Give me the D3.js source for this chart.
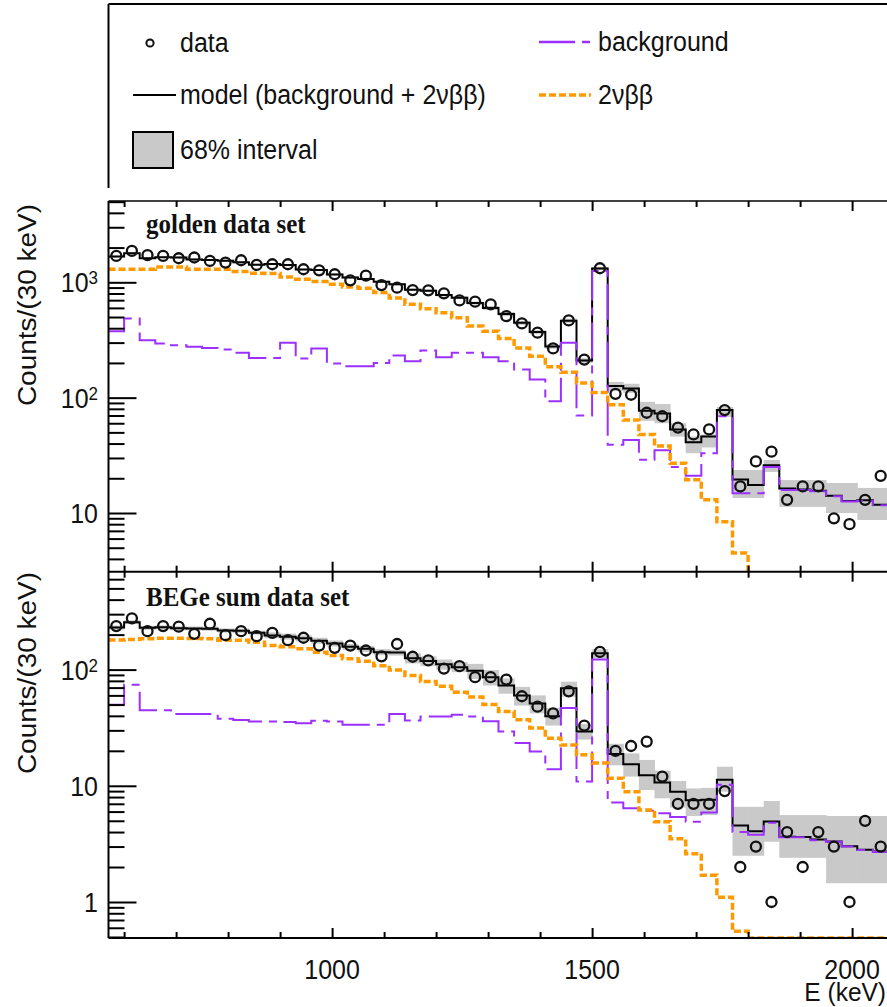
<!DOCTYPE html>
<html>
<head>
<meta charset="utf-8">
<script src="https://cdn.jsdelivr.net/npm/d3@7"></script>
<style>
  body { margin: 0; background: #fff; }
  svg { display: block; }
  text { font-family: "Liberation Sans", Arial, Helvetica, sans-serif; fill: #111; }
</style>
</head>
<body>
<svg id="chart" width="887" height="1007"></svg>
<script>
// ---- binning: 30 keV bins, lower edges (keV) ----
const binStart = [570, 600, 630, 660, 690, 720, 750, 780, 810, 840,
                  870, 900, 930, 960, 990, 1020, 1050, 1080, 1110, 1140,
                  1170, 1200, 1230, 1260, 1290, 1320, 1350, 1380, 1410, 1440,
                  1470, 1500, 1530, 1560, 1590, 1620, 1650, 1680, 1710, 1740,
                  1770, 1800, 1830, 1860, 1890, 1920, 1950, 1980, 2010, 2040];
const binWidth = 30;

// ---- golden data set ----
const goldenData = [1694, 1871, 1717, 1694, 1617, 1640, 1531, 1483, 1553, 1414,
                    1434, 1434, 1297, 1271, 1174, 1041, 1144, 947, 899, 857,
                    852, 802, 697, 679, 644, 509, 440, 366, 267, 467,
                    214, 1324, 108, 106, 74, 69, 55, 48, 53, 78,
                    17, 28, 34, 13, 17, 17, 9, 8, 13, 21];
const goldenModel = [1670, 1790, 1620, 1650, 1640, 1580, 1560, 1540, 1490, 1420,
                     1440, 1410, 1290, 1280, 1170, 1100, 1070, 1010, 960, 860,
                     845, 775, 735, 660, 600, 530, 445, 370, 278, 465,
                     210, 1320, 126, 120, 77, 73, 53, 41, 46, 78,
                     19.5, 17.5, 26, 16.3, 16.0, 15.6, 14.1, 12.7, 12.9, 11.8];
const goldenBkg = [377, 486, 315, 295, 285, 276, 270, 261, 245, 221,
                   221, 299, 218, 267, 198, 187, 187, 200, 232, 207,
                   256, 224, 245, 245, 224, 207, 175, 144, 93, 299,
                   70, 1255, 39, 43, 29, 35, 25, 21, 33, 69,
                   14.8, 14.8, 25, 15.8, 15.8, 15.4, 14, 12.6, 12.8, 11.7];
const golden2nbb = [1297, 1297, 1297, 1359, 1359, 1297, 1297, 1297, 1239, 1200,
                    1190, 1112, 1062, 1014, 961, 910, 887, 814, 731, 644,
                    591, 545, 493, 417, 377, 326, 270, 229, 185, 166,
                    134, 111, 87, 64, 48, 38, 27, 19.4, 13, 8.4,
                    4.5, 2.1, 1.0, 0.5, 0.25, 0.12, 0.06, 0.03, 0.015, 0.008];
const goldenBandLo = [1635, 1755, 1590, 1620, 1610, 1550, 1530, 1510, 1460, 1390,
                      1410, 1380, 1265, 1255, 1145, 1075, 1045, 990, 940, 840,
                      825, 755, 715, 640, 577, 508, 427, 355, 266, 445,
                      200, 1280, 114, 110, 63, 60, 46, 33, 37, 68,
                      13.5, 13.5, 22.7, 11.3, 11.3, 11.3, 10, 10, 8.7, 8.7];
const goldenBandHi = [1705, 1825, 1650, 1685, 1675, 1610, 1590, 1570, 1520, 1450,
                      1470, 1440, 1315, 1305, 1195, 1125, 1095, 1030, 980, 880,
                      865, 795, 755, 680, 624, 552, 463, 385, 290, 485,
                      220, 1360, 137, 132, 92, 88, 60, 46, 48, 83,
                      23.6, 23.6, 28.8, 19.3, 19.3, 19.3, 18.2, 18.2, 16.5, 16.5];

// ---- BEGe sum data set ----
const begeData = [237, 276, 214, 237, 234, 203, 248, 198, 214, 194,
                  207, 179, 188, 161, 154, 161, 146, 130, 166, 129,
                  120, 102, 107, 86, 86, 82, 59, 48, 42, 65,
                  33, 142, 20, 22, 24, 12, 7, 7, 7, 9,
                  2, 3, 1, 4, 2, 4, 3, 1, 5, 3];
const begeModel = [230, 256, 229, 231, 227, 226, 225, 217, 216, 208,
                   197, 192, 186, 177, 168, 157, 151, 141, 140, 125,
                   118.5, 111, 105, 97.6, 86, 73, 60, 51, 39.6, 69,
                   29.4, 138, 18.8, 15.3, 12.3, 10.7, 8.9, 7.5, 7.6, 11.3,
                   4.56, 4.07, 4.94, 3.65, 3.62, 3.45, 3.32, 3.02, 2.82, 2.72];
const begeBkg = [49.9, 74, 44.6, 44.6, 41.4, 41.4, 41.4, 37.7, 36.9, 35.8,
                 35.8, 35.4, 34.6, 36.3, 35.8, 33.5, 33.5, 33.5, 41.4, 36.5,
                 39.5, 39.5, 40.9, 39.5, 35.9, 29.3, 23.3, 19.7, 13.9, 46.7,
                 10.9, 122, 7.2, 6.4, 6.1, 5.8, 5.4, 4.9, 5.9, 10.2,
                 4.0, 3.8, 4.8, 3.6, 3.6, 3.4, 3.3, 3.0, 2.8, 2.7];
const bege2nbb = [180, 182, 184, 186, 186, 185, 184, 179, 179, 172,
                  161, 157, 151, 141, 132, 124, 118, 108, 99, 88.8,
                  79, 71.8, 63.7, 58.1, 50, 43.6, 37, 31.4, 25.7, 22.5,
                  18.5, 15.7, 11.6, 8.9, 6.2, 4.9, 3.5, 2.6, 1.7, 1.1,
                  0.56, 0.27, 0.14, 0.07, 0.035, 0.018, 0.009, 0.004, 0.002, 0.001];
const begeBandLo = [221, 246, 220, 222, 218, 217, 216, 208, 207, 200,
                    186, 181, 175, 167, 158, 148, 142, 133, 132, 113,
                    107, 100, 95, 83, 73, 62, 49, 42, 33, 58.4,
                    25, 125, 15, 12, 9.2, 7.8, 6.5, 5.5, 5.6, 8.9,
                    2.5, 2.5, 3.3, 2.4, 2.4, 2.4, 1.45, 1.45, 1.45, 1.45];
const begeBandHi = [239, 266, 238, 240, 236, 235, 234, 226, 225, 216,
                    209, 204, 197, 188, 178, 166, 160, 150, 148, 138,
                    130, 122, 116, 112, 99, 84, 71, 60, 47, 78.7,
                    34, 150, 23, 19, 16.7, 13.5, 11, 9.5, 9.6, 14.6,
                    6.6, 6.6, 7.4, 5.6, 5.6, 5.6, 5.5, 5.5, 5.5, 5.5];

// ---- axis ticks and labels ----
const xMajorTicks = [1000, 1500, 2000];
const xMinorTicks = [600, 700, 800, 900, 1100, 1200, 1300, 1400, 1600, 1700, 1800, 1900];
const goldenYLabels = [{v: 1000, base: "10", sup: "3"}, {v: 100, base: "10", sup: "2"}, {v: 10, base: "10", sup: ""}];
const begeYLabels = [{v: 100, base: "10", sup: "2"}, {v: 10, base: "10", sup: ""}, {v: 1, base: "1", sup: ""}];

// ---- styling ----
const COL_BAND = "#c9c9c9";
const COL_BKG = "#9b30ff";
const COL_2NBB = "#ff9900";
const STRETCH = 1.12;   // vertical text stretch

const W = 887;
const svg = d3.select("#chart");
const xLeft = 108.5;
const x = d3.scaleLinear().domain([570, 2100]).range([xLeft, xLeft + 1530 * 0.52]);

// log scale anchored on two decade positions, then extended to the pad edges
function logScale(v1, y1, v2, y2, yTop, yBot) {
  const s = d3.scaleLog().domain([v1, v2]).range([y1, y2]);
  return d3.scaleLog().domain([s.invert(yBot), s.invert(yTop)]).range([yBot, yTop]);
}

// the upper pad is overlapped by the lower one, so its under-range bins
// fall out of view; the lower pad draws them on its floor
const panels = [
  {id: "golden", top: 201, bottom: 571.7, y: logScale(10, 513, 1000, 282.3, 201, 571.7),
   clampFloor: false,
   data: goldenData, model: goldenModel, bkg: goldenBkg, nbb: golden2nbb,
   lo: goldenBandLo, hi: goldenBandHi, title: "golden data set", titleY: 233,
   yLabels: goldenYLabels, yTitleCenter: 305},
  {id: "bege", top: 571.7, bottom: 938, y: logScale(1, 902, 100, 669.6, 571.7, 938),
   clampFloor: true,
   data: begeData, model: begeModel, bkg: begeBkg, nbb: bege2nbb,
   lo: begeBandLo, hi: begeBandHi, title: "BEGe sum data set", titleY: 606,
   yLabels: begeYLabels, yTitleCenter: 673}
];

function stretchedText(g, px, py, str, size, anchor) {
  return g.append("text")
    .attr("transform", `translate(${px},${py}) scale(1,${STRETCH})`)
    .attr("font-size", size)
    .attr("text-anchor", anchor || "start")
    .text(str);
}

const defs = svg.append("defs");
const stepLine = d3.line().curve(d3.curveStepAfter);

panels.forEach(p => {
  const y = p.y;
  const yMin = y.domain()[0];
  const yc = v => y(Math.max(v, p.clampFloor ? yMin : yMin / 3));

  defs.append("clipPath").attr("id", "clip-" + p.id)
    .append("rect").attr("x", xLeft).attr("y", p.top)
    .attr("width", W - xLeft).attr("height", p.bottom - p.top);

  const plot = svg.append("g").attr("clip-path", `url(#clip-${p.id})`);

  // 68% interval
  plot.append("g").selectAll("rect").data(binStart).join("rect")
    .attr("x", d => x(d))
    .attr("width", d => x(d + binWidth) - x(d) + 0.5)
    .attr("y", (d, i) => yc(p.hi[i]))
    .attr("height", (d, i) => yc(p.lo[i]) - yc(p.hi[i]))
    .attr("fill", COL_BAND);

  const steps = vals => {
    const pts = binStart.map((b, i) => [x(b), yc(vals[i])]);
    pts.push([x(binStart[binStart.length - 1] + binWidth), yc(vals[vals.length - 1])]);
    return stepLine(pts);
  };

  plot.append("path").attr("d", steps(p.model))
    .attr("fill", "none").attr("stroke", "#000").attr("stroke-width", 2);
  plot.append("path").attr("d", steps(p.bkg))
    .attr("fill", "none").attr("stroke", COL_BKG).attr("stroke-width", 2)
    .attr("stroke-dasharray", "36,7,8,7");
  plot.append("path").attr("d", steps(p.nbb))
    .attr("fill", "none").attr("stroke", COL_2NBB).attr("stroke-width", 3.5)
    .attr("stroke-dasharray", "7,3");

  plot.append("g").selectAll("circle").data(binStart).join("circle")
    .attr("cx", d => x(d + binWidth / 2))
    .attr("cy", (d, i) => y(p.data[i]))
    .attr("r", 5)
    .attr("fill", "none").attr("stroke", "#111").attr("stroke-width", 2.3);

  // ticks: x on top and bottom edges (inward), y on the left edge (inward)
  const axisStyle = g => {
    g.select(".domain").remove();
    g.selectAll(".tick line").attr("stroke", "#000").attr("stroke-width", 2);
    g.selectAll(".tick text").remove();
  };
  svg.append("g").attr("transform", `translate(0,${p.top})`)
    .call(d3.axisBottom(x).tickValues(xMinorTicks).tickSizeOuter(0).tickSize(6)).call(axisStyle);
  svg.append("g").attr("transform", `translate(0,${p.top})`)
    .call(d3.axisBottom(x).tickValues(xMajorTicks).tickSizeOuter(0).tickSize(10)).call(axisStyle);
  svg.append("g").attr("transform", `translate(0,${p.bottom})`)
    .call(d3.axisTop(x).tickValues(xMinorTicks).tickSizeOuter(0).tickSize(6)).call(axisStyle);
  svg.append("g").attr("transform", `translate(0,${p.bottom})`)
    .call(d3.axisTop(x).tickValues(xMajorTicks).tickSizeOuter(0).tickSize(10)).call(axisStyle);

  const [d0, d1] = y.domain();
  const minor = [], major = [];
  for (let k = Math.floor(Math.log10(d0)); k <= Math.ceil(Math.log10(d1)); k++) {
    for (let m = 1; m <= 9; m++) {
      const v = m * Math.pow(10, k);
      if (v >= d0 && v <= d1) (m === 1 ? major : minor).push(v);
    }
  }
  svg.append("g").attr("transform", `translate(${xLeft},0)`)
    .call(d3.axisRight(y).tickValues(minor).tickSizeOuter(0).tickSize(16)).call(axisStyle);
  svg.append("g").attr("transform", `translate(${xLeft},0)`)
    .call(d3.axisRight(y).tickValues(major).tickSizeOuter(0).tickSize(28)).call(axisStyle);

  // y tick labels
  p.yLabels.forEach(l => {
    const t = stretchedText(svg, 98, y(l.v) + 10, "", 25, "end");
    t.append("tspan").text(l.base);
    if (l.sup) t.append("tspan").attr("font-size", 17).attr("dy", -7).text(l.sup);
  });

  // y title
  svg.append("text")
    .attr("transform", `translate(36,${p.yTitleCenter}) scale(1,${STRETCH}) rotate(-90)`)
    .attr("font-size", 25).attr("text-anchor", "middle")
    .text("Counts/(30 keV)");

  // panel title
  stretchedText(svg, 146, p.titleY, p.title, 25)
    .style("font-family", '"Liberation Serif", "Times New Roman", serif')
    .attr("font-weight", "bold");
});

// frame
const frame = svg.append("g").attr("stroke", "#000").attr("stroke-width", 2);
frame.append("line").attr("x1", xLeft).attr("x2", xLeft).attr("y1", 201).attr("y2", 938);
frame.append("line").attr("x1", xLeft).attr("x2", W).attr("y1", 201).attr("y2", 201).attr("stroke-width", 1.5);
frame.append("line").attr("x1", xLeft).attr("x2", W).attr("y1", 571.7).attr("y2", 571.7);
frame.append("line").attr("x1", xLeft).attr("x2", W).attr("y1", 938).attr("y2", 938);

// x tick labels and title
xMajorTicks.forEach(v => stretchedText(svg, x(v), 979, String(v), 25, "middle"));
svg.append("text")
  .attr("transform", `translate(886,1001) scale(1,1.06)`)
  .attr("font-size", 24.5).attr("text-anchor", "end")
  .text("E (keV)");

// legend
const leg = svg.append("g");
leg.append("line").attr("x1", xLeft).attr("x2", W).attr("y1", 4).attr("y2", 4)
  .attr("stroke", "#000").attr("stroke-width", 2);
leg.append("line").attr("x1", xLeft).attr("x2", xLeft).attr("y1", 4).attr("y2", 188)
  .attr("stroke", "#000").attr("stroke-width", 2);

leg.append("circle").attr("cx", 150).attr("cy", 43).attr("r", 3.6)
  .attr("fill", "none").attr("stroke", "#111").attr("stroke-width", 2);
stretchedText(leg, 180, 52, "data", 25);

leg.append("line").attr("x1", 133).attr("x2", 176).attr("y1", 95).attr("y2", 95)
  .attr("stroke", "#000").attr("stroke-width", 2);
stretchedText(leg, 180, 104, "model (background + 2\u03bd\u03b2\u03b2)", 25);

leg.append("rect").attr("x", 133).attr("y", 132).attr("width", 40).attr("height", 36)
  .attr("fill", COL_BAND).attr("stroke", "#000").attr("stroke-width", 2);
stretchedText(leg, 180, 159, "68% interval", 25);

leg.append("line").attr("x1", 539).attr("x2", 591).attr("y1", 42).attr("y2", 42)
  .attr("stroke", COL_BKG).attr("stroke-width", 2.5).attr("stroke-dasharray", "36,7,8,7");
stretchedText(leg, 598, 51, "background", 25);

leg.append("line").attr("x1", 539).attr("x2", 591).attr("y1", 95).attr("y2", 95)
  .attr("stroke", COL_2NBB).attr("stroke-width", 3.5).attr("stroke-dasharray", "7,3");
stretchedText(leg, 598, 104, "2\u03bd\u03b2\u03b2", 25);
</script>
</body>
</html>
